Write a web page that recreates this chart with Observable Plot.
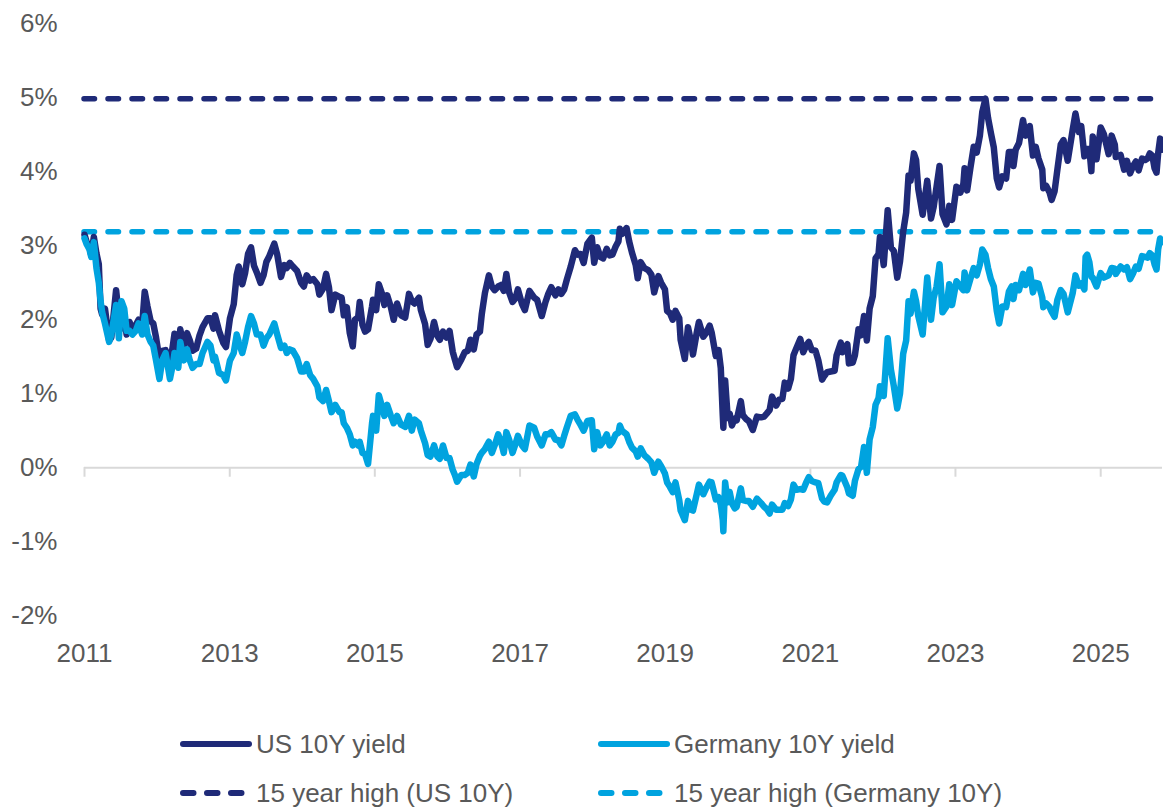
<!DOCTYPE html>
<html><head><meta charset="utf-8">
<script src="https://cdn.jsdelivr.net/npm/d3@7"></script>
<script src="https://cdn.jsdelivr.net/npm/@observablehq/plot@0.6"></script>
<style>
body{margin:0;background:#fff;font-family:"Liberation Sans",Arial,sans-serif;}
#wrap{position:relative;width:1163px;height:808px;overflow:hidden;}
.leg{position:absolute;display:flex;align-items:center;height:32px;font-size:26px;color:#595959;white-space:nowrap;}
.leg svg{display:block;margin-right:4px;}
</style></head><body><div id="wrap"><div id="chart"></div><div id="legend"></div></div>
<script>
// Observation dates (approx. twice monthly), one line per year
const dates = [
 "2011-05-21","2011-06-01","2011-06-15","2011-06-24","2011-07-07","2011-07-20","2011-08-01","2011-08-10","2011-08-18","2011-09-01","2011-09-22","2011-10-03","2011-10-27","2011-11-10","2011-11-23","2011-12-07","2011-12-19",
 "2012-01-03","2012-01-17","2012-02-03","2012-02-17","2012-03-06","2012-03-19","2012-04-02","2012-04-18","2012-05-01","2012-05-15","2012-06-01","2012-06-15","2012-07-02","2012-07-24","2012-08-08","2012-08-16","2012-09-04","2012-09-14","2012-10-02","2012-10-18","2012-11-01","2012-11-15","2012-12-03","2012-12-20",
 "2013-01-04","2013-01-29","2013-02-13","2013-02-28","2013-03-08","2013-03-28","2013-04-18","2013-05-02","2013-05-22","2013-06-10","2013-06-25","2013-07-05","2013-07-23","2013-08-06","2013-08-21","2013-09-05","2013-09-20","2013-10-04","2013-10-23","2013-11-07","2013-11-21","2013-12-06","2013-12-31",
 "2014-01-15","2014-02-03","2014-02-20","2014-03-04","2014-03-19","2014-04-04","2014-04-25","2014-05-15","2014-05-29","2014-06-12","2014-06-30","2014-07-15","2014-08-05","2014-08-15","2014-09-02","2014-09-18","2014-10-02","2014-10-15","2014-11-03","2014-11-24","2014-12-05","2014-12-16","2014-12-31",
 "2015-01-15","2015-01-30","2015-02-10","2015-02-26","2015-03-06","2015-03-20","2015-04-02","2015-04-17","2015-05-07","2015-05-12","2015-05-28","2015-06-10","2015-06-29","2015-07-08","2015-07-22","2015-08-10","2015-08-24","2015-09-10","2015-09-30","2015-10-21","2015-11-09","2015-11-23","2015-12-07","2015-12-29",
 "2016-01-08","2016-01-29","2016-02-11","2016-02-25","2016-03-14","2016-03-31","2016-04-12","2016-04-28","2016-05-16","2016-05-31","2016-06-16","2016-06-27","2016-07-08","2016-07-29","2016-08-15","2016-08-31","2016-09-13","2016-09-30","2016-10-14","2016-10-31","2016-11-09","2016-11-25","2016-12-15","2016-12-30",
 "2017-01-13","2017-01-31","2017-02-14","2017-02-28","2017-03-13","2017-03-27","2017-04-13","2017-04-28","2017-05-10","2017-05-31","2017-06-14","2017-06-30","2017-07-07","2017-07-31","2017-08-15","2017-09-07","2017-09-26","2017-10-10","2017-10-25","2017-11-15","2017-11-30","2017-12-15","2017-12-29",
 "2018-01-12","2018-01-31","2018-02-21","2018-03-06","2018-03-21","2018-04-06","2018-04-25","2018-05-17","2018-05-29","2018-06-13","2018-06-29","2018-07-13","2018-07-31","2018-08-15","2018-08-29","2018-09-14","2018-09-28","2018-10-05","2018-10-16","2018-11-08","2018-11-21","2018-12-05","2018-12-24",
 "2019-01-03","2019-01-18","2019-02-05","2019-02-25","2019-03-13","2019-03-27","2019-04-17","2019-05-01","2019-05-20","2019-05-31","2019-06-14","2019-06-28","2019-07-12","2019-07-31","2019-08-07","2019-08-28","2019-09-13","2019-09-30","2019-10-08","2019-10-28","2019-11-07","2019-11-29","2019-12-13","2019-12-31",
 "2020-01-10","2020-01-31","2020-02-14","2020-02-25","2020-03-06","2020-03-09","2020-03-18","2020-03-31","2020-04-10","2020-04-21","2020-05-05","2020-05-15","2020-06-05","2020-06-15","2020-06-30","2020-07-15","2020-08-04","2020-08-25","2020-09-15","2020-09-30","2020-10-13","2020-10-28","2020-11-09","2020-11-30","2020-12-15","2020-12-31",
 "2021-01-12","2021-01-29","2021-02-12","2021-02-25","2021-03-12","2021-03-31","2021-04-15","2021-04-30","2021-05-13","2021-05-28","2021-06-16","2021-06-30","2021-07-19","2021-07-30","2021-08-13","2021-08-31","2021-09-20","2021-09-30","2021-10-21","2021-10-29","2021-11-23","2021-12-01","2021-12-20","2021-12-31",
 "2022-01-18","2022-01-31","2022-02-15","2022-03-01","2022-03-15","2022-03-31","2022-04-14","2022-04-29","2022-05-06","2022-05-25","2022-06-14","2022-06-30","2022-07-15","2022-08-01","2022-08-15","2022-08-31","2022-09-15","2022-09-27","2022-10-07","2022-10-24","2022-11-04","2022-11-15","2022-12-07","2022-12-30",
 "2023-01-18","2023-01-31","2023-02-15","2023-03-02","2023-03-17","2023-04-06","2023-04-20","2023-05-04","2023-05-26","2023-06-15","2023-06-30","2023-07-06","2023-07-19","2023-08-04","2023-08-21","2023-09-05","2023-09-21","2023-10-03","2023-10-19","2023-11-01","2023-11-15","2023-11-30","2023-12-15","2023-12-27",
 "2024-01-12","2024-01-31","2024-02-14","2024-02-28","2024-03-08","2024-03-19","2024-04-05","2024-04-25","2024-05-08","2024-05-29","2024-06-14","2024-06-28","2024-07-12","2024-07-31","2024-08-05","2024-08-20","2024-09-06","2024-09-16","2024-10-01","2024-10-15","2024-11-01","2024-11-15","2024-12-06","2024-12-31",
 "2025-01-14","2025-01-31","2025-02-12","2025-02-28","2025-03-06","2025-03-14","2025-03-25","2025-04-04","2025-04-11","2025-04-30","2025-05-21","2025-06-06","2025-06-30","2025-07-15","2025-07-31","2025-08-05","2025-08-29","2025-09-16","2025-09-30","2025-10-16","2025-10-31","2025-11-14","2025-11-28","2025-12-15","2025-12-31",
 "2026-01-12","2026-01-23","2026-02-05","2026-02-16","2026-02-26","2026-03-06","2026-03-16","2026-03-25"
];

// US 10Y yield, %
const usYield = [
 3.15,3.05,2.98,2.87,3.12,2.90,2.75,2.15,2.07,2.15,1.72,1.76,2.40,2.05,1.88,2.03,1.80,
 1.97,1.86,1.93,2.00,1.92,2.38,2.18,1.98,1.95,1.76,1.47,1.58,1.59,1.39,1.66,1.81,1.57,1.87,1.62,1.82,1.72,1.58,1.61,1.79,
 1.90,2.02,2.02,1.88,2.06,1.85,1.69,1.63,2.02,2.21,2.61,2.72,2.48,2.63,2.89,2.98,2.73,2.64,2.50,2.60,2.78,2.86,3.03,
 2.88,2.58,2.74,2.70,2.77,2.72,2.66,2.50,2.45,2.60,2.53,2.55,2.48,2.34,2.42,2.62,2.44,2.13,2.34,2.31,2.30,2.06,2.17,
 1.82,1.64,2.00,2.03,2.24,1.93,1.84,1.87,2.18,2.27,2.13,2.48,2.33,2.20,2.33,2.17,2.00,2.22,2.06,2.03,2.35,2.25,2.22,2.30,
 2.13,1.94,1.66,1.74,1.97,1.78,1.73,1.84,1.76,1.85,1.57,1.46,1.36,1.46,1.56,1.58,1.73,1.60,1.80,1.84,2.07,2.36,2.60,2.45,
 2.40,2.45,2.47,2.39,2.62,2.37,2.24,2.29,2.41,2.21,2.13,2.31,2.39,2.30,2.27,2.05,2.24,2.35,2.44,2.33,2.41,2.35,2.41,
 2.55,2.72,2.94,2.88,2.89,2.77,3.03,3.11,2.77,2.98,2.85,2.83,2.96,2.87,2.88,2.99,3.06,3.23,3.16,3.24,3.06,2.91,2.74,
 2.56,2.78,2.70,2.67,2.61,2.37,2.59,2.50,2.41,2.12,2.09,2.00,2.12,2.02,1.73,1.47,1.90,1.68,1.53,1.84,1.97,1.77,1.82,1.92,
 1.83,1.51,1.59,1.35,0.71,0.54,1.18,0.67,0.73,0.57,0.66,0.64,0.90,0.71,0.66,0.63,0.51,0.69,0.68,0.69,0.73,0.78,0.96,0.84,0.92,0.93,
 1.15,1.07,1.20,1.52,1.62,1.74,1.56,1.65,1.70,1.59,1.58,1.45,1.19,1.24,1.29,1.30,1.31,1.52,1.69,1.56,1.67,1.41,1.42,1.52,
 1.87,1.79,2.05,1.72,2.15,2.32,2.83,2.89,3.12,2.74,3.48,2.98,2.93,2.57,2.79,3.19,3.45,3.95,3.88,4.25,4.16,3.77,3.42,3.88,
 3.37,3.52,3.80,4.08,3.43,3.29,3.54,3.35,3.80,3.72,3.84,4.05,3.75,4.05,4.34,4.26,4.49,4.81,4.99,4.73,4.53,4.33,3.91,3.79,
 3.94,3.91,4.27,4.27,4.08,4.30,4.39,4.70,4.49,4.62,4.22,4.34,4.18,4.03,3.78,3.81,3.72,3.62,3.74,4.03,4.37,4.43,4.15,4.57,
 4.79,4.54,4.62,4.21,4.28,4.31,4.31,4.01,4.48,4.17,4.60,4.51,4.24,4.49,4.37,4.20,4.23,4.03,4.15,3.98,4.08,4.14,4.02,4.18,4.16,
 4.18,4.25,4.22,4.05,3.99,4.25,4.45,4.30
];

// Germany 10Y yield, %
const deYield = [
 3.10,3.02,2.95,2.85,3.05,2.70,2.50,2.25,2.10,1.95,1.70,1.80,2.20,1.75,2.25,2.15,1.85,
 1.85,1.80,1.85,1.95,1.80,2.05,1.80,1.70,1.65,1.45,1.20,1.45,1.55,1.20,1.40,1.55,1.35,1.70,1.45,1.60,1.45,1.35,1.40,1.40,
 1.55,1.70,1.65,1.45,1.50,1.28,1.25,1.18,1.45,1.55,1.80,1.70,1.55,1.70,1.90,2.05,1.95,1.80,1.80,1.65,1.75,1.80,1.95,
 1.80,1.62,1.65,1.55,1.60,1.58,1.48,1.30,1.30,1.40,1.25,1.20,1.10,0.95,0.90,1.05,0.90,0.75,0.85,0.75,0.75,0.60,0.54,
 0.45,0.30,0.35,0.30,0.35,0.20,0.18,0.05,0.60,0.70,0.50,0.98,0.80,0.70,0.85,0.70,0.60,0.70,0.58,0.55,0.70,0.50,0.65,0.60,
 0.50,0.33,0.17,0.15,0.30,0.15,0.12,0.30,0.13,0.13,-0.03,-0.10,-0.19,-0.10,-0.10,-0.07,0.04,-0.12,0.05,0.16,0.20,0.25,0.35,0.20,
 0.30,0.45,0.35,0.20,0.48,0.38,0.20,0.32,0.43,0.30,0.25,0.47,0.57,0.54,0.42,0.30,0.45,0.45,0.48,0.38,0.37,0.30,0.43,
 0.55,0.70,0.72,0.65,0.58,0.50,0.63,0.64,0.25,0.48,0.30,0.35,0.45,0.30,0.35,0.45,0.47,0.57,0.50,0.45,0.35,0.27,0.22,
 0.15,0.26,0.17,0.12,0.07,-0.07,0.08,0.02,-0.08,-0.20,-0.26,-0.33,-0.20,-0.44,-0.58,-0.71,-0.45,-0.57,-0.58,-0.35,-0.23,-0.36,-0.28,-0.19,
 -0.20,-0.43,-0.40,-0.50,-0.71,-0.86,-0.20,-0.47,-0.33,-0.48,-0.55,-0.53,-0.28,-0.44,-0.45,-0.45,-0.53,-0.42,-0.48,-0.53,-0.56,-0.62,-0.50,-0.57,-0.57,-0.57,
 -0.48,-0.52,-0.43,-0.23,-0.30,-0.29,-0.30,-0.20,-0.13,-0.18,-0.20,-0.21,-0.42,-0.46,-0.47,-0.38,-0.30,-0.20,-0.10,-0.11,-0.27,-0.35,-0.38,-0.18,
 -0.02,0.01,0.28,-0.07,0.38,0.55,0.85,0.94,1.10,0.97,1.75,1.33,1.10,0.80,1.00,1.54,1.72,2.25,2.08,2.38,2.25,2.05,1.80,2.57,
 2.00,2.29,2.45,2.75,2.10,2.18,2.48,2.20,2.52,2.45,2.40,2.64,2.40,2.55,2.70,2.60,2.75,2.95,2.88,2.70,2.55,2.45,2.12,1.95,
 2.18,2.17,2.38,2.45,2.28,2.47,2.40,2.62,2.47,2.68,2.37,2.50,2.49,2.30,2.17,2.22,2.17,2.11,2.04,2.27,2.40,2.35,2.10,2.36,
 2.60,2.46,2.49,2.41,2.85,2.88,2.78,2.58,2.57,2.45,2.63,2.57,2.60,2.70,2.69,2.62,2.72,2.68,2.71,2.55,2.63,2.72,2.69,2.86,2.85,
 2.84,2.90,2.87,2.75,2.68,2.95,3.10,3.05
];

// 15 year highs, %
const highValues = [4.99, 3.19];
const seriesNames = ["US 10Y yield", "Germany 10Y yield"];
const highNames = ["15 year high (US 10Y)", "15 year high (Germany 10Y)"];
const yTicks = [-2, -1, 0, 1, 2, 3, 4, 5, 6];
const xTickDates = ["2011-05-21","2013-05-21","2015-05-21","2017-05-21","2019-05-21","2021-05-21","2023-05-21","2025-05-21"];
const xDomain = ["2011-05-21", "2026-03-28"];

const NAVY = "#1f2a78", LIGHT = "#00a3df", GRAY = "#595959";
const parse = d3.utcParse("%Y-%m-%d");
if (dates.length !== usYield.length || dates.length !== deYield.length) console.error("length mismatch", dates.length, usYield.length, deYield.length);
const us = dates.map((d, i) => ({date: parse(d), value: usYield[i]}));
const de = dates.map((d, i) => ({date: parse(d), value: deYield[i]}));
const ticks = xTickDates.map(parse);

const chart = Plot.plot({
  width: 1163, height: 670,
  marginLeft: 84, marginRight: 1, marginTop: 23.5, marginBottom: 55,
  style: {fontFamily: '"Liberation Sans", Arial, sans-serif', fontSize: "26px", color: GRAY, background: "white"},
  x: {type: "utc", domain: xDomain.map(parse), label: null},
  y: {domain: [-2, 6], label: null},
  marks: [
    Plot.ruleY([0], {stroke: "#d9d9d9", strokeWidth: 2}),
    Plot.ruleX(ticks, {y1: 0, y2: -0.13, stroke: "#d9d9d9", strokeWidth: 2}),
    Plot.ruleY([highValues[1]], {stroke: LIGHT, strokeWidth: 5.5, strokeDasharray: "10.5,13.5", strokeLinecap: "round"}),
    Plot.ruleY([highValues[0]], {stroke: NAVY, strokeWidth: 5.5, strokeDasharray: "10.5,13.5", strokeLinecap: "round"}),
    Plot.line(us, {x: "date", y: "value", stroke: NAVY, strokeWidth: 6.5, strokeLinejoin: "round", strokeLinecap: "round"}),
    Plot.line(de, {x: "date", y: "value", stroke: LIGHT, strokeWidth: 6.5, strokeLinejoin: "round", strokeLinecap: "round"}),
    Plot.axisY({ticks: yTicks, tickSize: 0, tickPadding: 27, tickFormat: d => d + "%", fill: GRAY, fontSize: 26}),
    Plot.axisX({ticks: ticks, tickSize: 0, tickPadding: 28, tickFormat: d3.utcFormat("%Y"), fill: GRAY, fontSize: 26})
  ]
});
document.getElementById("chart").appendChild(chart);

// Legend
const legend = document.getElementById("legend");
const items = [
  {name: seriesNames[0], color: NAVY, dashed: false, left: 180, top: 728},
  {name: seriesNames[1], color: LIGHT, dashed: false, left: 598, top: 728},
  {name: highNames[0], color: NAVY, dashed: true, left: 180, top: 777},
  {name: highNames[1], color: LIGHT, dashed: true, left: 598, top: 777}
];
for (const it of items) {
  const div = document.createElement("div");
  div.className = "leg";
  div.style.left = it.left + "px";
  div.style.top = it.top + "px";
  const dash = it.dashed ? ' stroke-dasharray="10.5,13.5"' : "";
  div.innerHTML = `<svg width="72" height="12"><line x1="3" x2="69" y1="6" y2="6" stroke="${it.color}" stroke-width="6" stroke-linecap="round"${dash}/></svg><span>${it.name}</span>`;
  legend.appendChild(div);
}
</script></body></html>
